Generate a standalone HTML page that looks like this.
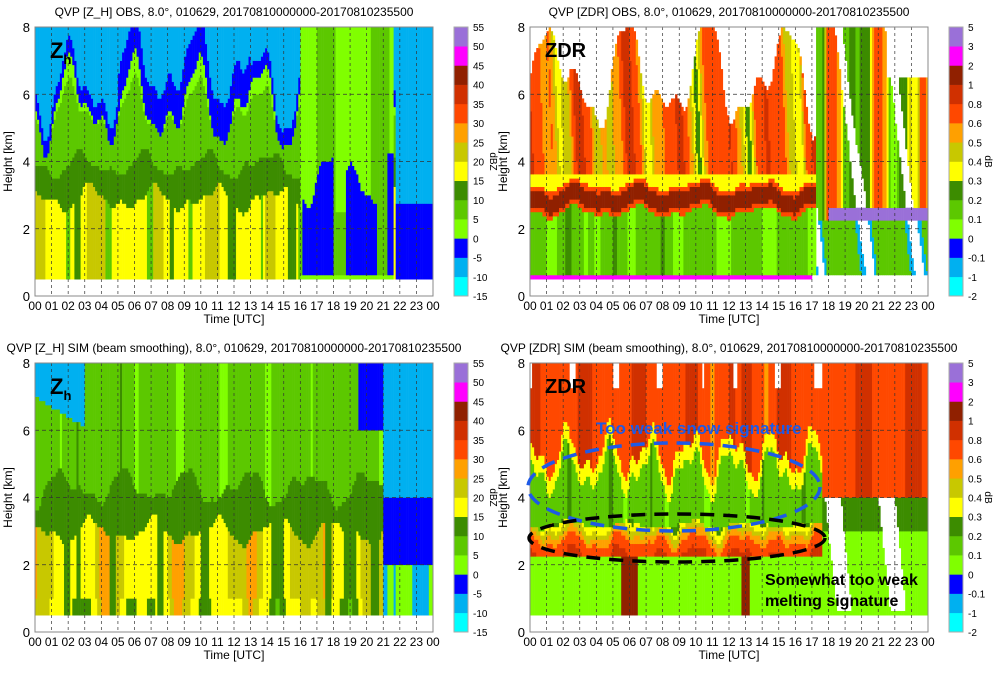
<!DOCTYPE html><html><head><meta charset="utf-8"><style>body{margin:0;background:#fff}svg{display:block}text{font-family:"Liberation Sans",sans-serif}</style></head><body>
<svg id="s" width="1000" height="673" xmlns="http://www.w3.org/2000/svg"></svg>
<script>
const S=document.getElementById('s');let out='';
const C=['#00ffff','#00b0f0','#0000ff','#80ff00','#5cc800','#3c8c00','#ffff00','#c8c800','#ffa000','#ff4800','#d03000','#902000','#ff00ff','#9a70d8'];
function n(t,s){return Math.sin(t*1.7+s)+0.5*Math.sin(t*3.1+s*2.1)+0.25*Math.sin(t*6.3+s*3.3);}
const zb=[-15,-10,-5,0,5,10,15,20,25,30,35,40,45,50,55];
const db=[-2,-1,-0.1,0,0.1,0.2,0.3,0.4,0.5,0.6,0.8,1,2,3,5];
function ci(v,b){if(v==null)return -1;for(let i=0;i<14;i++)if(v<b[i+1])return Math.max(0,i);return 13;}
function zobs(t,h){if(h<0.45)return null;if(h<0.55)return 16;
 if(t>21.8){return h<2.8?-3:-7;}
 if(t>=16&&t<21.6){if(h<0.65)return 3;if(h<3.6+0.6*n(t,2)&&n(t*1.5,5)<0.4)return -3;if(h<2.5)return 8;return 4+2*n(t*1.2,3);}
 let top=6.2+1.0*n(t,4);let lz=18+3*n(t*1.1,7);if(n(t*1.6,8)>1.1)lz=8;
 if(h<2.9+0.3*n(t,2))return lz;if(h<3.9+0.3*n(t,3))return 11;
 if(h<top-0.5)return 7-3*(h-4)/Math.max(top-4,0.5);if(h<top)return -2;return (t>5&&t<13&&h<top+0.6)?-3:-7;}
function zsim(t,h){if(h<0.45)return null;
 if(t>21){if(h<2)return n(t*1.5,2)>0?3:-6;return h<4?-3:-7;}
 let lz=20+5*n(t*0.9,1);if(n(t*1.4,3)>1.1)lz=12;
 if(h<3+0.3*n(t,2))return lz-(h<1?2:0);if(h<4.3+0.4*n(t,5))return 12;
 if(t<3&&h>7-t*0.3)return -7;if(t>19.5&&h>6)return -3;
 return 7+2*n(t*1.5,1);}
function dobs(t,h){if(h<0.45)return null;if(h<0.6)return t<17?2.5:null;
 if(t>17.3){if(h>2.2&&h<2.6&&t>18)return 4;if(h>6.5&&t>21.5)return null;let r=n(t*1.3,h*0.5);if(r>1.1)return null;if(h<2.2)return r>0.4?-0.5:0.15;return 0.35+0.25*n(t*1.4,2);}
 let bb=2.9+0.15*n(t,3);if(Math.abs(h-bb)<0.25)return 1.5;if(Math.abs(h-bb)<0.4)return 0.7;
 if(h<bb)return 0.13+0.05*n(t*1.4,2);
 let top=6.5+1.2*n(t*0.8,6);if(h>top)return null;
 if(h<3.6)return 0.35;return 0.6+0.2*n(t*1.3,h*0.2);}
function dsim(t,h){if(h<0.45)return null;
 if(t>17.6){if(h>4)return 0.75+0.1*n(t*1.3,1);let r=n(t*1.2,h*0.4);if(r>0.6&&h>0.6)return null;if(h>3)return 0.2;return 0.06;}
 if(h>7.3&&n(t*1.5,1)>1)return null;
 let sn=4.8+0.6*n(t*1.5,2);let ml=3.2+0.1*n(t,4);
 if(h>sn+0.5)return 0.75+0.1*n(t*1.2,1);if(h>sn)return 0.35;
 if(h>ml)return 0.15+0.04*n(t*1.6,1);
 if(h>2.3){return 0.35+0.5*(ml-h)+0.1*n(t*1.5,1);}
 if(t>5.5&&t<6.5||t>12.8&&t<13.3)return 1.5;return 0.06+0.02*n(t*1.5,h*0.3);}
function panel(x0,y0,f,b){const W=398,H=269,NC=192,NR=64;const cw=W/NC,rh=H/NR;
 for(let c=0;c<NC;c++){const t=(c+0.5)*24/NC;let r=0;while(r<NR){const k=ci(f(t,(r+0.5)*8/NR),b);let r2=r+1;while(r2<NR&&ci(f(t,(r2+0.5)*8/NR),b)==k)r2++;
  if(k>=0)out+=`<rect x="${(x0+c*cw).toFixed(2)}" y="${(y0+H-r2*rh).toFixed(2)}" width="${(cw+0.3).toFixed(2)}" height="${((r2-r)*rh+0.3).toFixed(2)}" fill="${C[k]}"/>`;r=r2;}}
 for(let i=1;i<24;i++){const x=x0+i*W/24;out+=`<line x1="${x}" y1="${y0}" x2="${x}" y2="${y0+H}" stroke="#333" stroke-width="0.7" stroke-dasharray="3 3"/>`;}
 for(let j=1;j<4;j++){const y=y0+H-j*H/4;out+=`<line x1="${x0}" y1="${y}" x2="${x0+W}" y2="${y}" stroke="#333" stroke-width="0.7" stroke-dasharray="4 3"/>`;}
 out+=`<rect x="${x0}" y="${y0}" width="${W}" height="${H}" fill="none" stroke="#888"/>`;
 for(let i=0;i<=24;i++){const x=x0+i*W/24;out+=`<text x="${x}" y="${y0+H+14}" font-size="12" text-anchor="middle">${String(i%24).padStart(2,'0')}</text>`;}
 for(let j=0;j<=4;j++){const y=y0+H-j*H/4;out+=`<text x="${x0-5}" y="${y+5}" font-size="13" text-anchor="end">${j*2}</text>`;}
 out+=`<text x="${x0+W/2}" y="${y0+H+27}" font-size="12" text-anchor="middle">Time [UTC]</text>`;
 out+=`<text transform="translate(${x0-23},${y0+H/2}) rotate(-90)" font-size="12" text-anchor="middle">Height [km]</text>`;}
function cbar(x,y0,labs,unit){const H=269;for(let i=0;i<14;i++)out+=`<rect x="${x}" y="${y0+H-(i+1)*H/14}" width="14" height="${H/14+0.3}" fill="${C[i]}"/>`;
 out+=`<rect x="${x}" y="${y0}" width="14" height="${H}" fill="none" stroke="#aaa"/>`;
 labs.forEach((l,i)=>{out+=`<text x="${x+19}" y="${y0+H-i*H/14+4}" font-size="10">${l}</text>`;});
 out+=`<text transform="translate(${x+36},${y0+H/2}) rotate(90)" font-size="10" text-anchor="middle">${unit}</text>`;}
const ZL=zb.map(String),DL=db.map(String);
panel(35,27,zobs,zb);cbar(454,27,ZL,'dBZ');
panel(530,27,dobs,db);cbar(949,27,DL,'dB');
panel(35,363,zsim,zb);cbar(454,363,ZL,'dBZ');
panel(530,363,dsim,db);cbar(949,363,DL,'dB');
out+=`<text x="234" y="16" font-size="12" text-anchor="middle">QVP [Z_H] OBS, 8.0°, 010629, 20170810000000-20170810235500</text>`;
out+=`<text x="729" y="16" font-size="12" text-anchor="middle">QVP [ZDR] OBS, 8.0°, 010629, 20170810000000-20170810235500</text>`;
out+=`<text x="234" y="352" font-size="12" text-anchor="middle">QVP [Z_H] SIM (beam smoothing), 8.0°, 010629, 20170810000000-20170810235500</text>`;
out+=`<text x="729" y="352" font-size="12" text-anchor="middle">QVP [ZDR] SIM (beam smoothing), 8.0°, 010629, 20170810000000-20170810235500</text>`;
out+=`<text x="50" y="58" font-size="22" font-weight="bold">Z<tspan font-size="13" dy="6">h</tspan></text>`;
out+=`<text x="50" y="394" font-size="22" font-weight="bold">Z<tspan font-size="13" dy="6">h</tspan></text>`;
out+=`<text x="545" y="57" font-size="20" font-weight="bold">ZDR</text>`;
out+=`<text x="545" y="393" font-size="20" font-weight="bold">ZDR</text>`;
out+=`<ellipse cx="674" cy="487" rx="146" ry="44" fill="none" stroke="#1e5ae6" stroke-width="3.5" stroke-dasharray="14 9"/>`;
out+=`<ellipse cx="677" cy="538" rx="148" ry="24" fill="none" stroke="#000" stroke-width="3.5" stroke-dasharray="14 9"/>`;
out+=`<text x="596" y="434" font-size="17" font-weight="bold" fill="#1e5ae6">Too weak snow signature</text>`;
out+=`<text x="765" y="585" font-size="16" font-weight="bold">Somewhat too weak</text>`;
out+=`<text x="765" y="606" font-size="16" font-weight="bold">melting signature</text>`;
S.innerHTML=out;
</script></body></html>
